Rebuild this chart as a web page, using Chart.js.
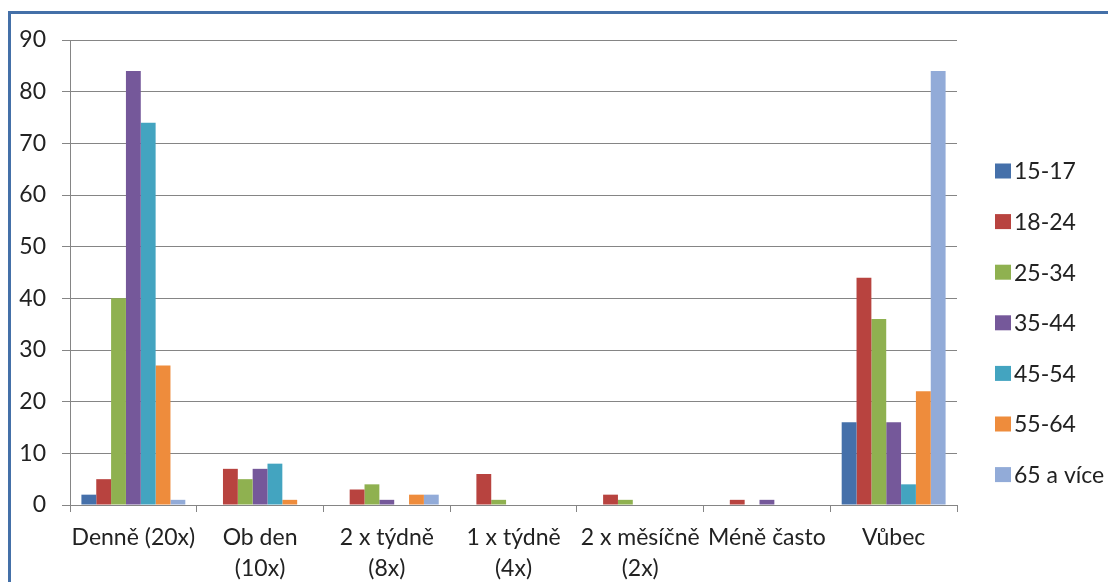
<!DOCTYPE html>
<html>
<head>
<meta charset="utf-8">
<script src="https://cdn.jsdelivr.net/npm/chart.js@4"></script>
<style>
  html, body { margin: 0; padding: 0; background: #fff; overflow: hidden; }
  #frame {
    position: absolute; left: 8px; top: 11px;
    width: 1200px; height: 700px;
    border: 3px solid #4470a8;
  }
  #wrap { position: absolute; left: 0; top: 0; width: 1108px; height: 582px; }
</style>
</head>
<body>
<div id="frame"></div>
<div id="wrap"><canvas id="chart"></canvas></div>
<script>
const categories = [
  ["Denně (20x)"],
  ["Ob den", "(10x)"],
  ["2 x týdně", "(8x)"],
  ["1 x týdně", "(4x)"],
  ["2 x měsíčně", "(2x)"],
  ["Méně často"],
  ["Vůbec"]
];
const seriesNames = ["15-17", "18-24", "25-34", "35-44", "45-54", "55-64", "65 a více"];
const age15_17 = [2, 0, 0, 0, 0, 0, 16];
const age18_24 = [5, 7, 3, 6, 2, 1, 44];
const age25_34 = [40, 5, 4, 1, 1, 0, 36];
const age35_44 = [84, 7, 1, 0, 0, 1, 16];
const age45_54 = [74, 8, 0, 0, 0, 0, 4];
const age55_64 = [27, 1, 2, 0, 0, 0, 22];
const age65plus = [1, 0, 2, 0, 0, 0, 84];
const yTicks = [0, 10, 20, 30, 40, 50, 60, 70, 80, 90];

const colors = ["#4570aa", "#b8433f", "#8fb150", "#75589a", "#43a4c0", "#ee8c3c", "#92abd8"];
const allSeries = [age15_17, age18_24, age25_34, age35_44, age45_54, age55_64, age65plus];

const FONT = "Lato, 'Open Sans', sans-serif";
const GRID = "#858585";
const TEXT = "#222";

// legend drawn by hand so it can sit where the original one is
const sideLegend = {
  id: "sideLegend",
  afterDraw(chart) {
    const ctx = chart.ctx;
    ctx.save();
    ctx.font = "23px " + FONT;
    ctx.textBaseline = "middle";
    chart.data.datasets.forEach((ds, i) => {
      const y = 171 + i * 50.6;
      ctx.fillStyle = ds.backgroundColor;
      ctx.fillRect(995, y - 7.5, 16, 15);
      ctx.fillStyle = TEXT;
      ctx.fillText(ds.label, 1014, y + 1);
    });
    ctx.restore();
  }
};

new Chart(document.getElementById("chart"), {
  type: "bar",
  data: {
    labels: categories,
    datasets: seriesNames.map((name, i) => ({
      label: name,
      data: allSeries[i],
      backgroundColor: colors[i],
      borderWidth: 0,
      categoryPercentage: 0.82,
      barPercentage: 1.0,
    })),
  },
  options: {
    responsive: true,
    maintainAspectRatio: false,
    animation: false,
    layout: { padding: { left: 0, top: 40, right: 151, bottom: 0 } },
    plugins: {
      legend: { display: false },
      tooltip: { enabled: false },
    },
    scales: {
      x: {
        grid: {
          display: true,
          offset: true,
          drawOnChartArea: false,
          color: GRID,
          tickLength: 7,
        },
        border: { display: true, color: GRID, width: 1 },
        ticks: {
          color: TEXT,
          font: { family: FONT, size: 23, lineHeight: 1.35 },
          padding: 10,
          maxRotation: 0,
          autoSkip: false,
        },
        afterFit(scale) { scale.height = 77; },
      },
      y: {
        min: 0,
        max: 90,
        afterBuildTicks(scale) { scale.ticks = yTicks.map(v => ({ value: v })); },
        grid: { color: GRID, lineWidth: 1, tickLength: 8 },
        border: { display: true, color: GRID, width: 1 },
        ticks: {
          color: TEXT,
          font: { family: FONT, size: 23 },
          padding: 16,
        },
        afterFit(scale) { scale.width = 70; },
      },
    },
  },
  plugins: [sideLegend],
});
</script>
</body>
</html>
